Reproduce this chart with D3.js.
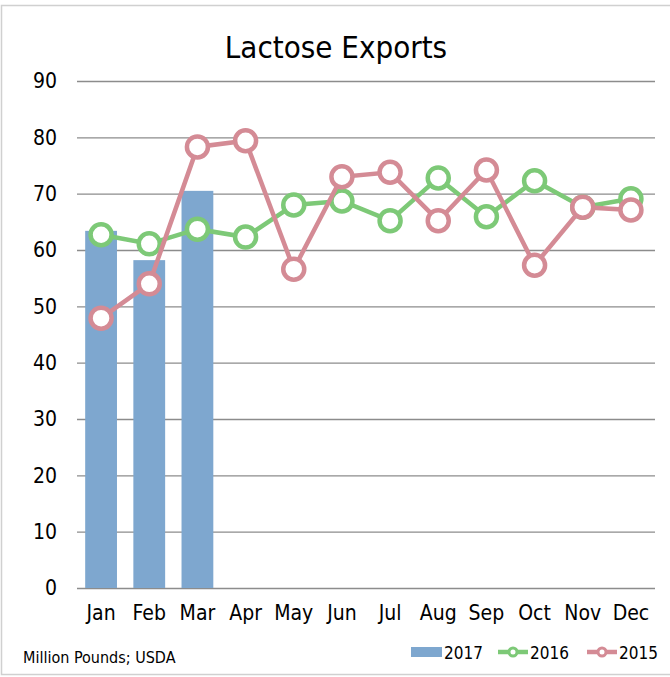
<!DOCTYPE html>
<meta charset="utf-8">
<style>
  body { margin: 0; background: #fff; }
  text { font-family: "DejaVu Sans Condensed", "Liberation Sans Narrow", sans-serif; fill: #000; }
</style>
<body></body>
<script src="https://cdn.jsdelivr.net/npm/d3@7"></script>
<script>

var months = ["Jan", "Feb", "Mar", "Apr", "May", "Jun", "Jul", "Aug", "Sep", "Oct", "Nov", "Dec"];
var yTicks = [0, 10, 20, 30, 40, 50, 60, 70, 80, 90];
var exports2017 = [63.4, 58.2, 70.5];
var exports2016 = [62.7, 61.1, 63.7, 62.3, 68.0, 68.7, 65.2, 72.8, 65.9, 72.3, 67.6, 69.1];
var exports2015 = [47.9, 54.0, 78.3, 79.4, 56.6, 73.0, 73.8, 65.2, 74.2, 57.3, 67.6, 67.1];

var width = 670,
    height = 677;

var colBar = "#7ea7cf",
    col2016 = "#7dc977",
    col2015 = "#d48b95";

var svg = d3.select("body").append("svg")
    .attr("width", width)
    .attr("height", height);

// chart border
svg.append("rect")
    .attr("x", 1.5).attr("y", 5.5)
    .attr("width", 680).attr("height", 669)
    .attr("fill", "none")
    .attr("stroke", "#d0d0d0")
    .attr("stroke-width", 1.5);

var x = d3.scaleBand()
    .domain(months)
    .range([77, 655]);

var y = d3.scaleLinear()
    .domain([0, 90])
    .range([588, 81]);

svg.append("text")
    .attr("x", 336).attr("y", 58)
    .attr("text-anchor", "middle")
    .style("font-size", "31px")
    .text("Lactose Exports");

// gridlines + y labels
var yAxis = svg.append("g")
    .attr("transform", "translate(77,0)")
    .call(d3.axisLeft(y).tickValues(yTicks).tickSize(-578).tickPadding(20));
yAxis.select(".domain").remove();
yAxis.selectAll("line").attr("stroke", "#8c8c8c").attr("stroke-width", 1.3);
yAxis.selectAll("text")
    .attr("fill", "#000")
    .style("font-size", "21px")
    .style("font-family", "\"DejaVu Sans Condensed\", sans-serif");

// x labels
var xAxis = svg.append("g")
    .attr("transform", "translate(0,588)")
    .call(d3.axisBottom(x).tickSize(0).tickPadding(17));
xAxis.select(".domain").remove();
xAxis.selectAll("text")
    .attr("fill", "#000")
    .style("font-size", "21px")
    .style("font-family", "\"DejaVu Sans Condensed\", sans-serif");

// 2017 bars
var barW = x.bandwidth() * 0.66;
svg.selectAll(".bar")
    .data(exports2017)
  .enter().append("rect")
    .attr("class", "bar")
    .attr("x", function(d, i) { return x(months[i]) + (x.bandwidth() - barW) / 2; })
    .attr("y", function(d) { return y(d); })
    .attr("width", barW)
    .attr("height", function(d) { return y(0) - y(d); })
    .attr("fill", colBar);

var line = d3.line()
    .x(function(d, i) { return x(months[i]) + x.bandwidth() / 2; })
    .y(function(d) { return y(d); });

function drawSeries(data, color) {
  var g = svg.append("g");
  g.append("path")
      .datum(data)
      .attr("d", line)
      .attr("fill", "none")
      .attr("stroke", color)
      .attr("stroke-width", 4.5);
  g.selectAll("circle")
      .data(data)
    .enter().append("circle")
      .attr("cx", function(d, i) { return x(months[i]) + x.bandwidth() / 2; })
      .attr("cy", function(d) { return y(d); })
      .attr("r", 10.5)
      .attr("fill", "#fff")
      .attr("stroke", color)
      .attr("stroke-width", 4.5);
}

drawSeries(exports2016, col2016);
drawSeries(exports2015, col2015);

// source note
svg.append("text")
    .attr("x", 23).attr("y", 663)
    .style("font-size", "16px")
    .text("Million Pounds; USDA");

// legend
var legend = svg.append("g").style("font-size", "17px");
legend.append("rect")
    .attr("x", 411).attr("y", 647).attr("width", 31).attr("height", 10)
    .attr("fill", colBar);
legend.append("text").attr("x", 444).attr("y", 659).text("2017");

[[498, col2016, "2016"], [587, col2015, "2015"]].forEach(function(l) {
  legend.append("line")
      .attr("x1", l[0]).attr("x2", l[0] + 30)
      .attr("y1", 652).attr("y2", 652)
      .attr("stroke", l[1]).attr("stroke-width", 4.5);
  legend.append("circle")
      .attr("cx", l[0] + 15).attr("cy", 652).attr("r", 4)
      .attr("fill", "#fff").attr("stroke", l[1]).attr("stroke-width", 3);
  legend.append("text").attr("x", l[0] + 32).attr("y", 659).text(l[2]);
});

</script>
